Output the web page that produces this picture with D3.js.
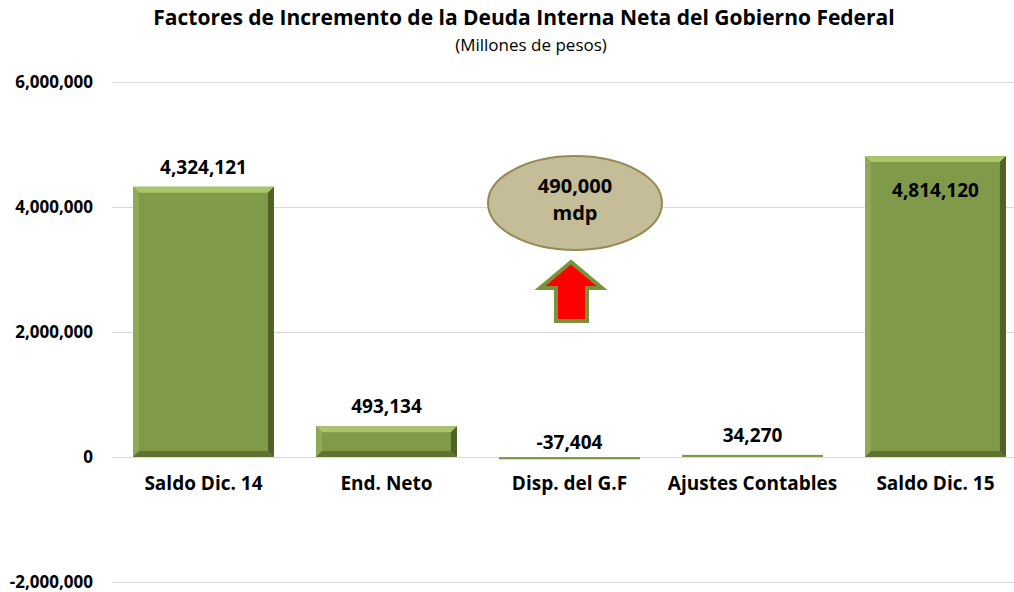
<!DOCTYPE html>
<html>
<head>
 <meta charset="UTF-8">
 <title>Deuda Interna Neta</title>
 <script src="https://d3js.org/d3.v7.min.js"></script>
 <style>
  body { margin: 0; background: #fff; }
  text { font-family: "Open Sans", Lato, sans-serif; }
 </style>
</head>
<body>
<script>
// datos
var categorias = ["Saldo Dic. 14", "End. Neto", "Disp. del G.F", "Ajustes Contables", "Saldo Dic. 15"];
var valores = [4324121, 493134, -37404, 34270, 4814120];
var etiquetas = ["4,324,121", "493,134", "-37,404", "34,270", "4,814,120"];
var ticks = [-2000000, 0, 2000000, 4000000, 6000000];
var tickLabels = ["-2,000,000", "0", "2,000,000", "4,000,000", "6,000,000"];
var globo = ["490,000", "mdp"];

var width = 1014, height = 592;
var svg = d3.select("body").append("svg")
  .attr("width", width).attr("height", height);

var y = d3.scaleLinear().domain([-2000000, 6000000]).range([582, 82]);
var x = d3.scaleBand().domain(categorias).range([112, 1027])
  .paddingInner(0.23).paddingOuter(0.115);

// titulo
svg.append("text").attr("x", 524).attr("y", 25).attr("text-anchor", "middle")
  .style("font-size", "21px").style("font-weight", "bold").attr("fill", "#000")
  .text("Factores de Incremento de la Deuda Interna Neta del Gobierno Federal");
svg.append("text").attr("x", 531).attr("y", 51).attr("text-anchor", "middle")
  .style("font-size", "17px").attr("fill", "#000")
  .text("(Millones de pesos)");

// rejilla
svg.selectAll("line.grid").data(ticks).enter().append("line")
  .attr("x1", 112).attr("x2", width)
  .attr("y1", function(d) { return y(d) + 0.5; })
  .attr("y2", function(d) { return y(d) + 0.5; })
  .attr("stroke", "#d9d9d9").attr("stroke-width", 1);

svg.selectAll("text.tick").data(ticks).enter().append("text")
  .attr("x", 93).attr("y", function(d) { return y(d) + 6; })
  .attr("text-anchor", "end")
  .style("font-size", "17px").style("font-weight", "bold")
  .text(function(d, i) { return tickLabels[i]; });

// barras con bisel
function barra(g, x0, w, yTop, yBot) {
  var h = yBot - yTop;
  var b = Math.min(6, h / 2);
  var x1 = x0 + w;
  g.append("rect").attr("x", x0).attr("y", yTop).attr("width", w).attr("height", h)
    .attr("fill", "#7f9a48");
  if (h < 4) return;
  var caras = [
    [[x0, yTop], [x1, yTop], [x1 - b, yTop + b], [x0 + b, yTop + b], "#a9c46b"],
    [[x0, yTop], [x0 + b, yTop + b], [x0 + b, yBot - b], [x0, yBot], "#8fa955"],
    [[x1, yTop], [x1, yBot], [x1 - b, yBot - b], [x1 - b, yTop + b], "#4f6226"],
    [[x0, yBot], [x0 + b, yBot - b], [x1 - b, yBot - b], [x1, yBot], "#5e7430"]
  ];
  caras.forEach(function(c) {
    g.append("polygon")
      .attr("points", c.slice(0, 4).map(function(p) { return p.join(","); }).join(" "))
      .attr("fill", c[4]);
  });
}

categorias.forEach(function(c, i) {
  var v = valores[i];
  var g = svg.append("g");
  var yTop = y(Math.max(0, v)), yBot = y(Math.min(0, v));
  if (yBot - yTop < 2) yBot = yTop + 2;
  barra(g, x(c), x.bandwidth(), yTop, yBot);
});

// etiquetas de valores
svg.selectAll("text.val").data(etiquetas).enter().append("text")
  .attr("x", function(d, i) { return x(categorias[i]) + x.bandwidth() / 2; })
  .attr("y", function(d, i) {
    // encima de la barra salvo la ultima, que va dentro
    if (i === 4) return y(valores[i]) + 41;
    if (valores[i] < 0) return y(0) - 8;
    return y(valores[i]) - 13;
  })
  .attr("text-anchor", "middle")
  .style("font-size", "19px").style("font-weight", "bold")
  .text(function(d) { return d; });

// categorias
svg.selectAll("text.cat").data(categorias).enter().append("text")
  .attr("x", function(d) { return x(d) + x.bandwidth() / 2; })
  .attr("y", 490)
  .attr("text-anchor", "middle")
  .style("font-size", "19px").style("font-weight", "bold")
  .text(function(d) { return d; });

// globo 490,000 mdp
svg.append("ellipse").attr("cx", 575).attr("cy", 203).attr("rx", 87).attr("ry", 47)
  .attr("fill", "#c4bd97").attr("stroke", "#948a54").attr("stroke-width", 2);
svg.selectAll("text.globo").data(globo).enter().append("text")
  .attr("x", 575).attr("y", function(d, i) { return 193 + i * 27; })
  .attr("text-anchor", "middle")
  .style("font-size", "20px").style("font-weight", "bold")
  .text(function(d) { return d; });

// flecha
var flecha = [[571, 262], [602, 288], [587, 288], [587, 321], [556, 321], [556, 288], [540, 288]];
svg.append("polygon")
  .attr("points", flecha.map(function(p) { return p.join(","); }).join(" "))
  .attr("fill", "#ff0000").attr("stroke", "#77933c").attr("stroke-width", 4)
  .attr("stroke-linejoin", "miter");
</script>
</body>
</html>
